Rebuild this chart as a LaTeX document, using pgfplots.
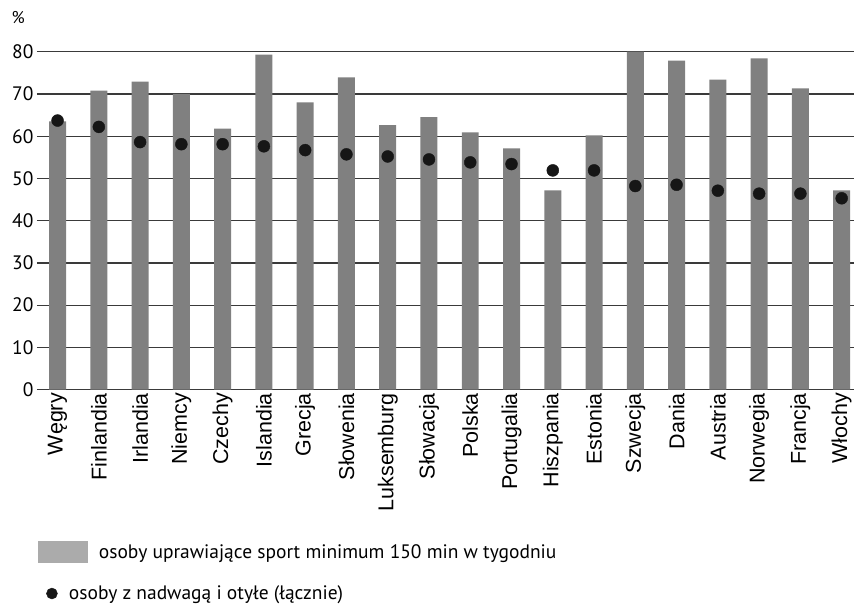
\documentclass[border=0pt]{standalone}
\usepackage{pgfplots}
\pgfplotsset{compat=1.18}
\usepackage{pgfplotstable}
\usepackage{fontspec}
\setmainfont{PT Sans}
\newfontfamily\labelfont{Liberation Sans}

\definecolor{bargray}{HTML}{808080}
\definecolor{dotblack}{HTML}{161616}
\definecolor{gridgray}{HTML}{3A3A3A}
\definecolor{keygray}{HTML}{ABABAB}

% idx: country position, sport: share exercising >= 150 min/week, waga: overweight + obese
\pgfplotstableread{
idx sport waga
0  63.5 63.7
1  70.8 62.2
2  72.9 58.6
3  70.0 58.1
4  61.8 58.1
5  79.3 57.6
6  68.0 56.7
7  73.9 55.7
8  62.6 55.2
9  64.5 54.5
10 60.9 53.8
11 57.1 53.4
12 47.2 51.9
13 60.2 51.9
14 80.0 48.2
15 77.9 48.5
16 73.4 47.1
17 78.4 46.4
18 71.3 46.4
19 47.2 45.3
}\data

\begin{document}
\begin{tikzpicture}
\begin{axis}[
  scale only axis,
  width=818pt, height=338.3pt,
  xmin=-0.5, xmax=19.3,
  ymin=0, ymax=80,
  ytick={0,10,...,80},
  ymajorgrids,
  grid style={gridgray, line width=1.3pt},
  axis line style={draw=none},
  major tick length=0pt,
  xtick={0,...,19},
  xticklabels={Węgry,Finlandia,Irlandia,Niemcy,Czechy,Islandia,Grecja,Słowenia,Luksemburg,Słowacja,Polska,Portugalia,Hiszpania,Estonia,Szwecja,Dania,Austria,Norwegia,Francja,Włochy},
  xticklabel style={rotate=90, anchor=east, font=\labelfont\fontsize{21.5}{24}\selectfont},
  yticklabel style={font=\fontsize{19.5}{22}\selectfont},
  /pgf/number format/assume math mode=true,
  ylabel={\%},
  ylabel style={rotate=-90, at={(axis description cs:-0.023,1.1)}, anchor=center, font=\fontsize{17}{20}\selectfont},
  clip=false,
  legend style={at={(axis description cs:0.001,-0.447)}, anchor=north west,
    draw=none, fill=none, row sep=21pt, inner sep=0pt,
    font=\fontsize{19.5}{22}\selectfont, cells={anchor=west}},
]
\addplot[ybar, bar width=17pt, fill=bargray, draw=none,
  legend image code/.code={\fill[keygray] (0pt,-11pt) rectangle (50pt,11pt);}]
  table[x=idx, y=sport]{\data};
\addlegendentry{\hspace*{9pt}osoby uprawiające sport minimum 150 min w tygodniu}
\addplot[only marks, mark=*, mark size=6pt, color=dotblack,
  legend image code/.code={\path[draw=none,fill=none] (0pt,-1pt) rectangle (50pt,1pt); \fill[dotblack] (14pt,0pt) circle (5.5pt);}]
  table[x=idx, y=waga]{\data};
\addlegendentry{\hspace*{-21pt}osoby z nadwagą i otyłe (łącznie)}
% page extent around the plotting area
\path (rel axis cs:-0.0452,1.153) rectangle (rel axis cs:1,-0.6326);
\end{axis}
\end{tikzpicture}
\end{document}
